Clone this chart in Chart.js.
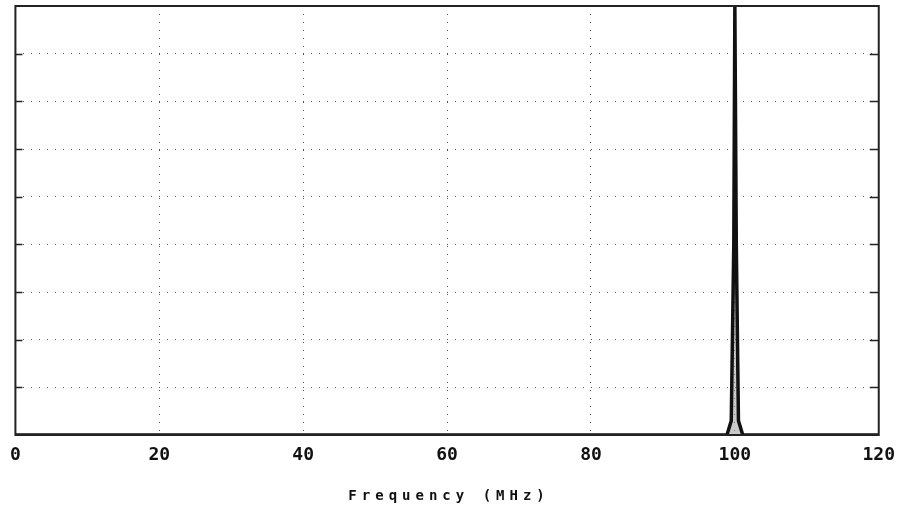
<!DOCTYPE html>
<html>
<head>
<meta charset="utf-8">
<script src="https://cdn.jsdelivr.net/npm/chart.js@4/dist/chart.umd.min.js"></script>
<style>
  html, body { margin: 0; padding: 0; background: #fff; }
  #wrap { width: 905px; height: 511px; }
</style>
</head>
<body>
<div id="wrap"><canvas id="c"></canvas></div>
<script>
// spectrum trace (MHz vs relative amplitude, 0..9 divisions)
const freqs = [0, 98.9, 99.5, 99.85, 100.0, 100.2, 100.5, 101.1, 120];
const amps  = [0, 0, 0.3, 4, 9, 4, 0.3, 0, 0];
const xTicks = [0, 20, 40, 60, 80, 100, 120];
const yDivisions = 9;
const xTitle = 'Frequency (MHz)';

const MONO = '"DejaVu Sans Mono", "Liberation Mono", monospace';

// frame, inward y ticks and spaced-out axis title
const framePlugin = {
  id: 'frame',
  afterDraw(chart) {
    const { ctx, chartArea: a } = chart;
    const y = chart.scales.y;
    ctx.save();
    ctx.strokeStyle = '#222';
    ctx.lineWidth = 2;
    ctx.strokeRect(a.left, a.top, a.right - a.left, a.bottom - a.top);
    ctx.lineWidth = 1.5;
    for (let v = 1; v < yDivisions; v++) {
      const py = Math.round(y.getPixelForValue(v)) + 0.5;
      ctx.beginPath();
      ctx.moveTo(a.left, py); ctx.lineTo(a.left + 7, py);
      ctx.moveTo(a.right, py); ctx.lineTo(a.right - 9, py);
      ctx.stroke();
    }
    ctx.fillStyle = '#111';
    ctx.font = 'bold 14px ' + MONO;
    ctx.letterSpacing = '5px';
    ctx.textAlign = 'center';
    ctx.textBaseline = 'middle';
    ctx.fillText(xTitle, (a.left + a.right) / 2 + 2, 496);
    ctx.restore();
  }
};

new Chart(document.getElementById('c'), {
  type: 'line',
  data: {
    datasets: [{
      data: freqs.map((f, i) => ({ x: f, y: amps[i] })),
      borderColor: '#111',
      borderWidth: 3.5,
      backgroundColor: 'rgba(150,150,150,0.5)',
      fill: 'origin',
      pointRadius: 0,
      tension: 0
    }]
  },
  options: {
    responsive: true,
    maintainAspectRatio: false,
    animation: false,
    layout: { padding: { left: 14, right: 26, top: 6, bottom: 0 } },
    plugins: { legend: { display: false }, tooltip: { enabled: false } },
    scales: {
      x: {
        type: 'linear',
        min: 0, max: 120,
        afterBuildTicks: s => { s.ticks = xTicks.map(v => ({ value: v })); },
        afterFit: s => { s.height = 76; },
        border: { display: false, dash: [1, 7] },
        grid: { color: '#555', lineWidth: 1, drawTicks: false },
        ticks: {
          color: '#111',
          padding: 10,
          font: { family: MONO, size: 18, weight: 'bold' },
          maxRotation: 0
        }
      },
      y: {
        min: 0, max: yDivisions,
        afterFit: s => { s.width = 0; },
        border: { display: false, dash: [1, 7] },
        grid: { color: '#555', lineWidth: 1, drawTicks: false },
        ticks: { display: false, stepSize: 1 }
      }
    }
  },
  plugins: [framePlugin]
});
</script>
</body>
</html>
